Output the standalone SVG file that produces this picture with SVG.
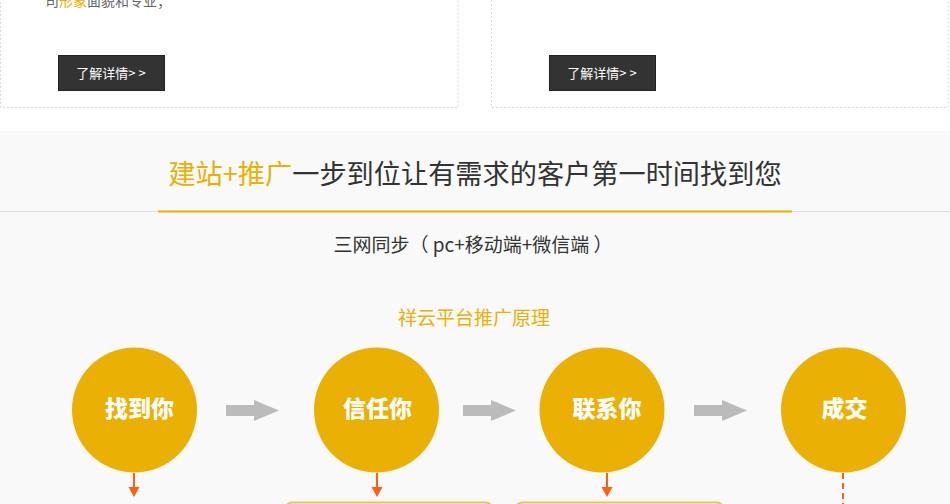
<svg xmlns="http://www.w3.org/2000/svg" width="950" height="504" viewBox="0 0 950 504">
<defs>
<style>
.cjk{font-family:"Noto Sans CJK SC","Liberation Sans",sans-serif;}
.dash{fill:none;stroke:#dcdcdc;stroke-width:1;stroke-dasharray:2,2;}
.btn{fill:#333;stroke:#222;stroke-width:1;}
.btnt{fill:#fff;font-size:13px;text-anchor:middle;}
.circ{fill:#eab003;}
.ct{fill:#fff;font-size:23px;font-weight:900;text-anchor:middle;}
.garrow{fill:#bbbbbb;}
.oline{stroke:#ff5f0f;stroke-width:2;fill:none;}
.ohead{fill:#ff5f0f;}
.obox{fill:none;stroke:#f2c14e;stroke-width:2;}
</style>
</defs>
<rect x="0" y="0" width="950" height="131" fill="#ffffff"/>
<rect x="0" y="131" width="950" height="373" fill="#f9f9f9"/>

<g id="card-left">
<rect class="dash" x="0.5" y="-10" width="457.5" height="117.5"/>
<text class="cjk" x="45" y="6" font-size="14" fill="#666">司<tspan fill="#eab003">形象</tspan>面貌和专业；</text>
<g id="btn-left">
<rect class="btn" x="58.5" y="55.5" width="106" height="35"/>
<text class="cjk btnt" x="111" y="78">了解详情&gt; &gt;</text>
</g>
</g>

<g id="card-right">
<rect class="dash" x="491.5" y="-10" width="456.5" height="117.5"/>
<g id="btn-right">
<rect class="btn" x="549.5" y="55.5" width="106" height="35"/>
<text class="cjk btnt" x="602" y="78">了解详情&gt; &gt;</text>
</g>
</g>

<g id="title">
<text class="cjk" x="475" y="184" font-size="27.2" text-anchor="middle" fill="#333"><tspan fill="#eab003">建站+推广</tspan>一步到位让有需求的客户第一时间找到您</text>
<rect x="0" y="211" width="950" height="1" fill="#dddddd"/>
<rect x="158" y="210.5" width="634" height="2" fill="#eab003"/>
</g>

<g id="subtitle">
<text class="cjk" x="473" y="252" font-size="19" text-anchor="middle" fill="#333" xml:space="preserve">三网同步（ pc+移动端+微信端 ）</text>
</g>

<g id="heading">
<text class="cjk" x="474" y="325" font-size="19" text-anchor="middle" fill="#eab003">祥云平台推广原理</text>
</g>

<g id="node-find">
<circle class="circ" cx="134.5" cy="410" r="62.5"/>
<text class="cjk ct" x="139.5" y="417">找到你</text>
</g>
<g id="node-trust">
<circle class="circ" cx="376.5" cy="410" r="62.5"/>
<text class="cjk ct" x="377.5" y="417">信任你</text>
</g>
<g id="node-contact">
<circle class="circ" cx="602" cy="410" r="62.5"/>
<text class="cjk ct" x="607" y="417">联系你</text>
</g>
<g id="node-deal">
<circle class="circ" cx="843.5" cy="410" r="62.5"/>
<text class="cjk ct" x="844.5" y="417">成交</text>
</g>

<g id="connectors">
<polygon class="garrow" points="226,405 254,405 254,400 279,410.5 254,421 254,416 226,416"/>
<polygon class="garrow" points="463,405 491,405 491,400 516,410.5 491,421 491,416 463,416"/>
<polygon class="garrow" points="694,405 722,405 722,400 747,410.5 722,421 722,416 694,416"/>

<line class="oline" x1="134" y1="473" x2="134" y2="490"/>
<polygon class="ohead" points="128.5,487 139.5,487 134,497"/>
<line class="oline" x1="377" y1="473" x2="377" y2="490"/>
<polygon class="ohead" points="371.5,487 382.5,487 377,497"/>
<line class="oline" x1="607" y1="473" x2="607" y2="490"/>
<polygon class="ohead" points="601.5,487 612.5,487 607,497"/>
<line class="oline" x1="843" y1="473" x2="843" y2="504" stroke-dasharray="6,4"/>
</g>

<g id="box-trust">
<rect class="obox" x="286" y="502.5" width="206" height="30" rx="6"/>
</g>
<g id="box-contact">
<rect class="obox" x="516" y="502.5" width="207" height="30" rx="6"/>
</g>
</svg>
